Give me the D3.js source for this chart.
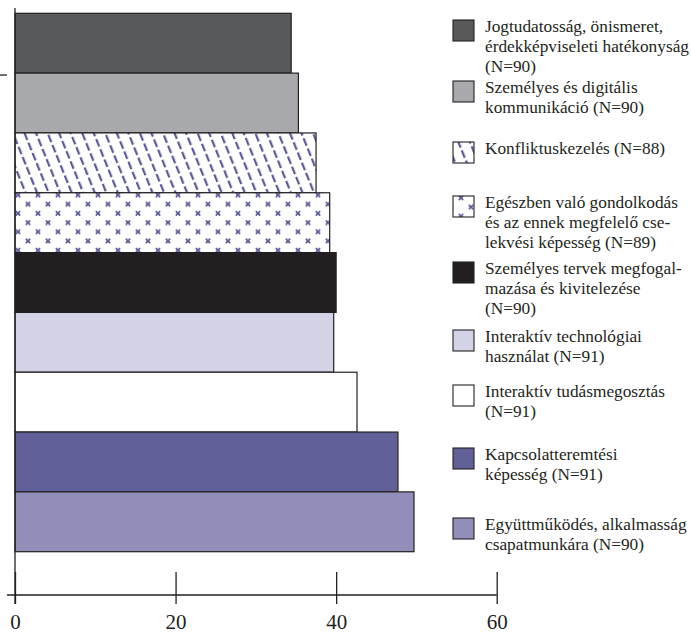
<!DOCTYPE html>
<html>
<head>
<meta charset="utf-8">
<script src="https://d3js.org/d3.v7.min.js"></script>
<style>
  body { margin: 0; background: #fff; }
  svg text { font-family: "Liberation Serif", "DejaVu Serif", serif; fill: #231f20; }
</style>
</head>
<body>
<div id="chart"></div>
<script>
// competences, top bar first
const categories = [
  "Jogtudatosság, önismeret, érdekképviseleti hatékonyság",
  "Személyes és digitális kommunikáció",
  "Konfliktuskezelés",
  "Egészben való gondolkodás és az ennek megfelelő cselekvési képesség",
  "Személyes tervek megfogalmazása és kivitelezése",
  "Interaktív technológiai használat",
  "Interaktív tudásmegosztás",
  "Kapcsolatteremtési képesség",
  "Együttműködés, alkalmasság csapatmunkára"
];
const values = [34.4, 35.3, 37.5, 39.2, 40.0, 39.7, 42.6, 47.7, 49.7];
const nValues = [90, 90, 88, 89, 90, 91, 91, 91, 90];
const legendLines = [
  ["Jogtudatosság, önismeret,", "érdekképviseleti hatékonyság", "(N=90)"],
  ["Személyes és digitális", "kommunikáció (N=90)"],
  ["Konfliktuskezelés (N=88)"],
  ["Egészben való gondolkodás", "és az ennek megfelelő cse-", "lekvési képesség (N=89)"],
  ["Személyes tervek megfogal-", "mazása és kivitelezése", "(N=90)"],
  ["Interaktív technológiai", "használat (N=91)"],
  ["Interaktív tudásmegosztás", "(N=91)"],
  ["Kapcsolatteremtési", "képesség (N=91)"],
  ["Együttműködés, alkalmasság", "csapatmunkára (N=90)"]
];
const xTicks = [0, 20, 40, 60];

const width = 691, height = 636;
const ink = "#231f20", purple = "#5b5b9b";

const fill = d3.scaleOrdinal()
  .domain(categories)
  .range(["#58595b", "#a7a9ac", "url(#hatch)", "url(#cross)", "#231f20",
          "#d3d3e6", "#ffffff", "#616098", "#918fba"]);

const svg = d3.select("#chart").append("svg")
  .attr("width", width)
  .attr("height", height);

// patterns
const defs = svg.append("defs");
const hatch = defs.append("pattern")
  .attr("id", "hatch")
  .attr("patternUnits", "userSpaceOnUse")
  .attr("width", 10.7).attr("height", 11)
  .attr("patternTransform", "rotate(-22)");
hatch.append("rect").attr("width", 10.7).attr("height", 11).attr("fill", "#fff");
hatch.append("line")
  .attr("x1", 5).attr("x2", 5).attr("y1", 0).attr("y2", 8)
  .attr("stroke", purple).attr("stroke-width", 2.2);

const cross = defs.append("pattern")
  .attr("id", "cross")
  .attr("patternUnits", "userSpaceOnUse")
  .attr("width", 20).attr("height", 18.4);
cross.append("rect").attr("width", 20).attr("height", 18.4).attr("fill", "#fff");
[[18, 11], [8, 1.8], [8, 20.2], [-2, 11]].forEach(([cx, cy]) => {
  cross.append("path")
    .attr("d", `M${cx - 2.2},${cy - 2.2}L${cx + 2.2},${cy + 2.2}M${cx - 2.2},${cy + 2.2}L${cx + 2.2},${cy - 2.2}`)
    .attr("stroke", purple).attr("stroke-width", 1.8);
});

const x = d3.scaleLinear().domain([0, 60]).range([15, 496.7]);
const y = d3.scaleBand().domain(categories).range([13.3, 551.7]).padding(0);

// bars
svg.append("g").selectAll("rect")
  .data(categories)
  .join("rect")
    .attr("x", x(0))
    .attr("y", d => y(d))
    .attr("width", (d, i) => x(values[i]) - x(0))
    .attr("height", y.bandwidth())
    .attr("fill", d => fill(d))
    .attr("stroke", ink)
    .attr("stroke-width", 1.2);

// y axis line + the lone tick on the left
svg.append("line")
  .attr("x1", x(0)).attr("x2", x(0))
  .attr("y1", 8).attr("y2", 604)
  .attr("stroke", ink).attr("stroke-width", 1.3);
svg.append("line")
  .attr("x1", 0).attr("x2", 7)
  .attr("y1", 75).attr("y2", 75)
  .attr("stroke", ink).attr("stroke-width", 1.3);

// x axis
const axisY = 595;
const xAxis = svg.append("g")
  .attr("transform", `translate(0,${axisY})`)
  .call(d3.axisBottom(x).tickValues(xTicks).tickSize(-23).tickPadding(0))
  .call(g => g.select(".domain").remove());
xAxis.selectAll(".tick line")
  .attr("y1", 9)
  .attr("stroke", ink).attr("stroke-width", 1.3);
xAxis.selectAll(".tick text")
  .attr("y", 34)
  .attr("dy", 0)
  .style("font-family", "'Liberation Serif', serif")
  .style("font-size", "21px")
  .attr("fill", ink);
xAxis.append("line")
  .attr("x1", 7).attr("x2", x(60))
  .attr("y1", 0).attr("y2", 0)
  .attr("stroke", ink).attr("stroke-width", 1.3);

// legend
const legendTops = [20, 81, 142, 196, 262, 330, 385, 448, 518];
const legend = svg.append("g")
  .selectAll("g")
  .data(categories)
  .join("g")
    .attr("transform", (d, i) => `translate(453,${legendTops[i]})`);
legend.append("rect")
  .attr("width", 21).attr("height", 21)
  .attr("fill", d => fill(d))
  .attr("stroke", ink).attr("stroke-width", 1.1);
legend.append("text")
  .attr("x", 32)
  .attr("y", 12)
  .style("font-size", "17.3px")
  .selectAll("tspan")
  .data((d, i) => legendLines[i])
  .join("tspan")
    .attr("x", 32)
    .attr("dy", (d, j) => j === 0 ? 0 : 20)
    .text(d => d);
</script>
</body>
</html>
